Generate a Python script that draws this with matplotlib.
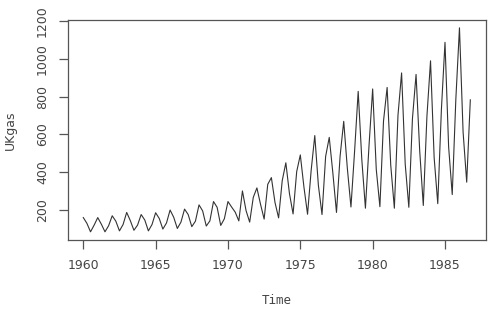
import numpy as np
import matplotlib
matplotlib.use("Agg")
import matplotlib.pyplot as plt

# UK quarterly gas consumption, 1960 Q1 .. 1986 Q4
years = list(range(1960, 1987))
ukgas = [
    160.1, 129.7, 84.8, 120.1,
    160.1, 124.9, 84.8, 116.9,
    169.7, 140.9, 89.7, 123.3,
    187.3, 144.1, 92.9, 120.1,
    176.1, 147.3, 89.7, 123.3,
    185.7, 155.3, 99.3, 131.3,
    200.1, 161.7, 102.5, 136.1,
    204.9, 176.1, 112.1, 140.9,
    227.3, 195.3, 115.3, 142.5,
    244.9, 214.5, 118.5, 153.7,
    244.9, 216.1, 188.9, 142.5,
    301.0, 196.9, 136.1, 267.3,
    317.0, 230.5, 152.1, 336.2,
    371.4, 240.1, 158.5, 355.4,
    449.9, 286.6, 179.3, 403.4,
    491.5, 321.8, 177.7, 409.8,
    593.9, 329.8, 176.1, 483.5,
    584.3, 395.4, 187.3, 485.1,
    669.2, 421.0, 216.1, 509.1,
    827.7, 467.5, 209.7, 542.7,
    840.5, 414.6, 217.7, 670.8,
    848.5, 437.0, 209.7, 701.2,
    925.3, 443.4, 214.5, 683.6,
    917.3, 515.5, 224.1, 694.8,
    989.4, 477.1, 233.7, 730.0,
    1087.0, 534.7, 281.8, 787.6,
    1163.9, 613.1, 347.4, 782.8,
]
xticks = [1960, 1965, 1970, 1975, 1980, 1985]
yticks = [200, 400, 600, 800, 1000, 1200]

t = np.repeat(years, 4) + np.tile([0, 0.25, 0.5, 0.75], len(years))
y = np.array(ukgas)

plt.rcParams['font.family'] = ['DejaVu Sans']
fig = plt.figure(figsize=(5.0, 3.17), dpi=100)
ax = fig.add_axes([0.1356, 0.243, 0.836, 0.695])

ax.plot(t, y, color='#333333', lw=0.8)

# R style 4% axis extension
xr = t.max() - t.min()
yr = y.max() - y.min()
ax.set_xlim(t.min() - 0.04 * xr, t.max() + 0.04 * xr)
ax.set_ylim(y.min() - 0.04 * yr, y.max() + 0.04 * yr)

gray = '#555555'
for s in ax.spines.values():
    s.set_color(gray)
    s.set_linewidth(0.9)

ax.set_xticks(xticks)
ax.set_yticks(yticks)
ax.tick_params(direction='out', length=6.5, width=0.9, color=gray,
               labelcolor='#444444', labelsize=9, pad=7)
plt.setp(ax.get_yticklabels(), rotation=90, va='center')

ax.set_xlabel('Time', fontsize=9, color='#444444', family='DejaVu Sans Mono', labelpad=16)
ax.set_ylabel('UKgas', fontsize=9, color='#444444', labelpad=14)

fig.savefig('out.png', dpi=100)
